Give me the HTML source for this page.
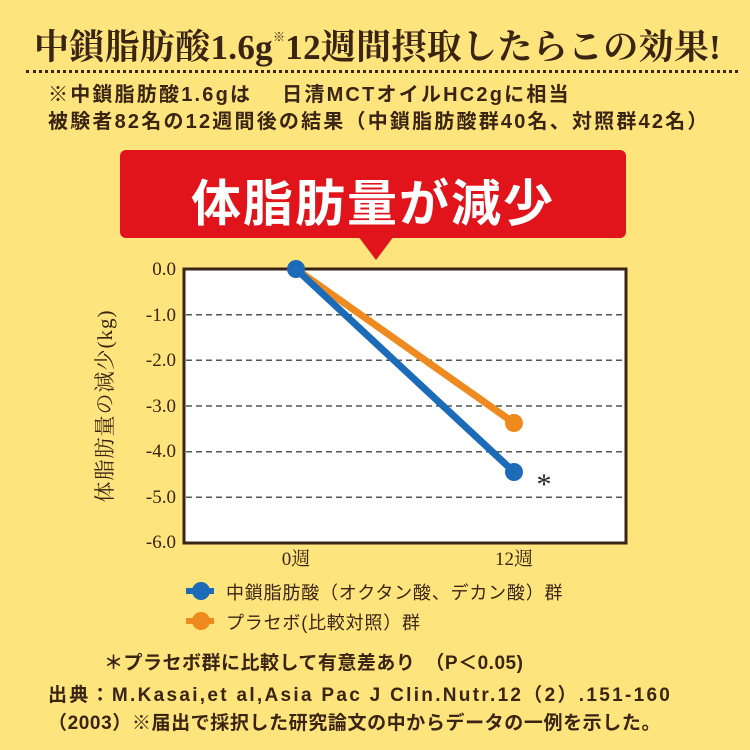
<!DOCTYPE html>
<html><head><meta charset="utf-8"><style>
body{margin:0;width:750px;height:750px;background:#fde47c;overflow:hidden;position:relative;font-family:"Liberation Sans","Noto Sans CJK JP",sans-serif;color:#3a2414}
.t{position:absolute;white-space:nowrap}
</style></head><body>
<div class="t" style="left:34px;top:20px;font-family:'Liberation Serif','Noto Serif CJK SC',serif;font-size:35px;font-weight:bold;letter-spacing:0.3px">中鎖脂肪酸1.6g<span style="font-size:12px;vertical-align:18px">※</span>12週間摂取したらこの効果!</div>
<div style="position:absolute;left:26px;top:70px;width:712px;border-top:3px dotted #3a2414"></div>
<div class="t" style="left:48px;top:82px;font-size:20px;font-weight:bold;line-height:27px;letter-spacing:2.2px">※中鎖脂肪酸1.6gは　 日清MCTオイルHC2gに相当<br>被験者82名の12週間後の結果（中鎖脂肪酸群40名、対照群42名）</div>
<div style="position:absolute;left:120px;top:150px;width:506px;height:88px;background:#e1141b;border-radius:6px"></div>
<div style="position:absolute;left:358px;top:236px;width:0;height:0;border-left:18px solid transparent;border-right:18px solid transparent;border-top:24px solid #e1141b"></div>
<div class="t" style="left:120px;top:164px;width:506px;text-align:center;color:#fff;font-size:50px;font-weight:bold;letter-spacing:2px">体脂肪量が減少</div>
<svg style="position:absolute;left:0;top:0" width="750" height="750">
<rect x="184" y="269" width="442" height="274" fill="#fff" stroke="#3a2414" stroke-width="3"/>
<g stroke="#555" stroke-width="1.5" stroke-dasharray="6,4">
<line x1="186" x2="624" y1="314.7" y2="314.7"/><line x1="186" x2="624" y1="360.3" y2="360.3"/><line x1="186" x2="624" y1="406" y2="406"/><line x1="186" x2="624" y1="451.7" y2="451.7"/><line x1="186" x2="624" y1="497.3" y2="497.3"/></g>
<g font-family="Liberation Serif,serif" font-size="19" fill="#3a2414" text-anchor="end">
<text x="176" y="275">0.0</text><text x="176" y="321">-1.0</text><text x="176" y="366">-2.0</text><text x="176" y="412">-3.0</text><text x="176" y="457">-4.0</text><text x="176" y="503">-5.0</text><text x="176" y="548">-6.0</text></g>
<text transform="translate(112,406) rotate(-90)" text-anchor="middle" font-family="Liberation Serif,'Noto Serif CJK SC',serif" font-size="21" fill="#3a2414" letter-spacing="1">体脂肪量の減少(kg)</text>
<g font-family="Liberation Serif,'Noto Serif CJK SC',serif" font-size="19" fill="#3a2414" text-anchor="middle"><text x="296" y="565">0週</text><text x="514" y="565">12週</text></g>
<line x1="296" y1="269" x2="514" y2="423" stroke="#ef8a1e" stroke-width="7"/>
<line x1="296" y1="269" x2="514" y2="472" stroke="#1b6bb8" stroke-width="7"/>
<circle cx="514" cy="423" r="9" fill="#ef8a1e"/>
<circle cx="514" cy="472" r="9" fill="#1b6bb8"/>
<circle cx="296" cy="269" r="9" fill="#1b6bb8"/>
<text x="544" y="494" font-size="30" fill="#222" font-family="Liberation Serif,serif" text-anchor="middle">*</text>
<line x1="186" y1="591" x2="214" y2="591" stroke="#1b6bb8" stroke-width="6"/><circle cx="201" cy="591" r="9" fill="#1b6bb8"/>
<line x1="186" y1="621" x2="214" y2="621" stroke="#ef8a1e" stroke-width="6"/><circle cx="201" cy="621" r="9" fill="#ef8a1e"/>
</svg>
<div class="t" style="left:226px;top:579px;font-size:18px;letter-spacing:0.8px">中鎖脂肪酸（オクタン酸、デカン酸）群</div>
<div class="t" style="left:226px;top:609px;font-size:18px;letter-spacing:0.8px">プラセボ(比較対照）群</div>
<div class="t" style="left:104px;top:648px;font-size:19px;font-weight:bold;letter-spacing:0.5px">＊プラセボ群に比較して有意差あり　（P＜0.05)</div>
<div class="t" style="left:48px;top:682px;font-size:19px;font-weight:bold;line-height:28px;letter-spacing:2.3px">出典：M.Kasai,et al,Asia Pac J Clin.Nutr.12（2）.151-160</div>
<div class="t" style="left:48px;top:710px;font-size:19px;font-weight:bold;line-height:28px;letter-spacing:0.6px">（2003）※届出で採択した研究論文の中からデータの一例を示した。</div>
</body></html>
